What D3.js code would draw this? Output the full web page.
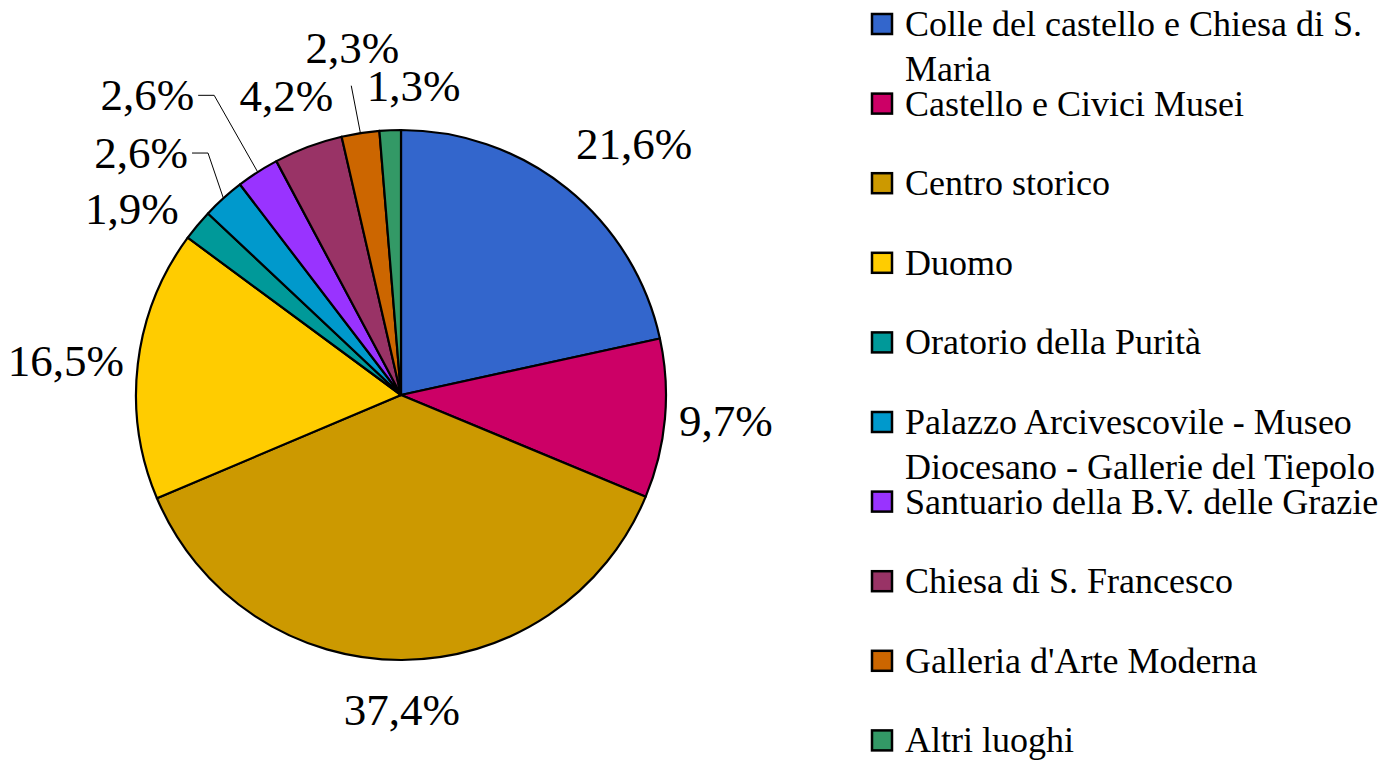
<!DOCTYPE html>
<html lang="it">
<meta charset="utf-8">
<title>Luoghi visitati</title>
<style>
    body { margin: 0; background: white; }
    svg  { display: block; }
    text { font-family: "Liberation Serif", "DejaVu Serif", "Times New Roman", serif; }
</style>
<script src="https://cdn.jsdelivr.net/npm/d3@7"></script>
<body>
<svg id="canvas"></svg>
<script>

    //////////////////////// Data /////////////////////////
    var categories = [
        "Colle del castello e Chiesa di S. Maria",
        "Castello e Civici Musei",
        "Centro storico",
        "Duomo",
        "Oratorio della Purità",
        "Palazzo Arcivescovile - Museo Diocesano - Gallerie del Tiepolo",
        "Santuario della B.V. delle Grazie",
        "Chiesa di S. Francesco",
        "Galleria d'Arte Moderna",
        "Altri luoghi"
    ];
    var values     = [21.6, 9.7, 37.4, 16.5, 1.9, 2.6, 2.6, 4.2, 2.3, 1.3];
    var labels     = ["21,6%", "9,7%", "37,4%", "16,5%", "1,9%", "2,6%", "2,6%", "4,2%", "2,3%", "1,3%"];
    ///////////////////////////////////////////////////////

    ///////////////////// Styles //////////////////////////
    var colors = ['#3366cc', '#cc0066', '#cc9900', '#ffcc00', '#009999',
                  '#0099cc', '#9933ff', '#993366', '#cc6600', '#339966'];
    var font_family   = '"Liberation Serif", "DejaVu Serif", "Times New Roman", serif';
    var label_size    = 45;
    var legend_size   = 36;
    ///////////////////////////////////////////////////////

    ///////////////////// Layout //////////////////////////
    var width  = 1388, height = 760;
    var cx = 401, cy = 395, radius = 265;
    var gap_x = 14, gap_y = 25;            // label distance from pie edge
    var ascent = 0.891 * label_size, descent = 0.216 * label_size;

    // small labels were pushed around to avoid overlap: [dx, dy, leader]
    var label_nudge = [
        [0, 0, null], [0, 0, null], [0, 0, null], [0, 0, null],
        [-8, 24, null],
        [-26, -2, 'side'],
        [-56, -31, 'side'],
        [-17, -3, null],
        [-6, -36, 'below'],
        [24, 5, null]
    ];

    var legend_x      = 872;
    var legend_y0     = 24;
    var legend_step   = 79.6;
    var legend_sq     = 20;
    var legend_wrap   = 486;
    var legend_line   = 45;
    ///////////////////////////////////////////////////////

    var canvas = d3.select("#canvas")
        .attr('width',  width)
        .attr('height', height)
        .attr('font-family', font_family);

    ////////////////////// Pie ////////////////////////////
    var pie = d3.pie().sort(null).value(function (d) { return d; });
    var arcs = pie(values);
    var arc = d3.arc().innerRadius(0).outerRadius(radius);

    var pie_g = canvas.append('g')
        .attr('transform', 'translate(' + cx + ',' + cy + ')');

    pie_g.selectAll('path')
        .data(arcs)
        .enter().append('path')
        .attr('d', arc)
        .attr('fill', function (d, i) { return colors[i]; })
        .attr('stroke', 'black')
        .attr('stroke-width', 2.2)
        .attr('stroke-linejoin', 'round');
    ///////////////////////////////////////////////////////

    ///////////////////// Labels //////////////////////////
    var label_g = pie_g.append('g')
        .attr('font-size', label_size)
        .attr('fill', 'black');

    arcs.forEach(function (d, i) {
        var a   = (d.startAngle + d.endAngle) / 2;
        var sin = Math.sin(a), cos = Math.cos(a);
        var ax  = (radius + gap_x) * sin;
        var ay  = -(radius + gap_y) * cos;

        // 8 sectors decide which side of the box touches the anchor
        var deg = a * 180 / Math.PI;
        var sector = Math.round(deg / 45) % 8;
        var hx = [0, 1, 1, 1, 0, -1, -1, -1][sector];
        var vy = [1, 1, 0, -1, -1, -1, 0, 1][sector];   // 1 = box above anchor

        var anchor = hx > 0 ? 'start' : (hx < 0 ? 'end' : 'middle');
        var base;
        if (vy > 0)      base = ay - descent;
        else if (vy < 0) base = ay + ascent;
        else             base = ay + (ascent - descent) / 2;

        var tx = ax + label_nudge[i][0];
        var ty = base + label_nudge[i][1];

        var t = label_g.append('text')
            .attr('x', tx)
            .attr('y', ty)
            .attr('text-anchor', anchor)
            .text(labels[i]);

        var leader = label_nudge[i][2];
        if (leader) {
            var ex = radius * sin, ey = -radius * cos;
            var pts;
            if (leader === 'side') {
                var w  = t.node().getComputedTextLength();
                var x0 = (anchor === 'end' ? tx : tx + w) + 4;
                var my = ty - 15;
                pts = [[x0, my], [x0 + 16, my], [ex, ey]];
            } else {
                pts = [[tx - 1, ty + 23], [ex, ey]];
            }
            pie_g.append('path')
                .attr('d', d3.line()(pts))
                .attr('fill', 'none')
                .attr('stroke', 'black')
                .attr('stroke-width', 1);
        }
    });
    ///////////////////////////////////////////////////////

    ///////////////////// Legend //////////////////////////
    var legend = canvas.append('g')
        .attr('font-size', legend_size)
        .attr('fill', 'black');

    categories.forEach(function (name, i) {
        var yc = legend_y0 + i * legend_step;
        legend.append('rect')
            .attr('x', legend_x)
            .attr('y', yc - legend_sq / 2)
            .attr('width',  legend_sq)
            .attr('height', legend_sq)
            .attr('fill', colors[i])
            .attr('stroke', 'black')
            .attr('stroke-width', 2.5);

        var text = legend.append('text')
            .attr('x', legend_x + 33)
            .attr('y', yc + 12);

        // word wrap against the right edge
        var words = name.split(' ');
        var line  = [];
        var tspan = text.append('tspan').attr('x', legend_x + 33).attr('dy', 0);
        words.forEach(function (w) {
            line.push(w);
            tspan.text(line.join(' '));
            if (tspan.node().getComputedTextLength() > legend_wrap && line.length > 1) {
                line.pop();
                tspan.text(line.join(' '));
                line = [w];
                tspan = text.append('tspan')
                    .attr('x', legend_x + 33)
                    .attr('dy', legend_line)
                    .text(w);
            }
        });
    });
    ///////////////////////////////////////////////////////

</script>
</body>
</html>
